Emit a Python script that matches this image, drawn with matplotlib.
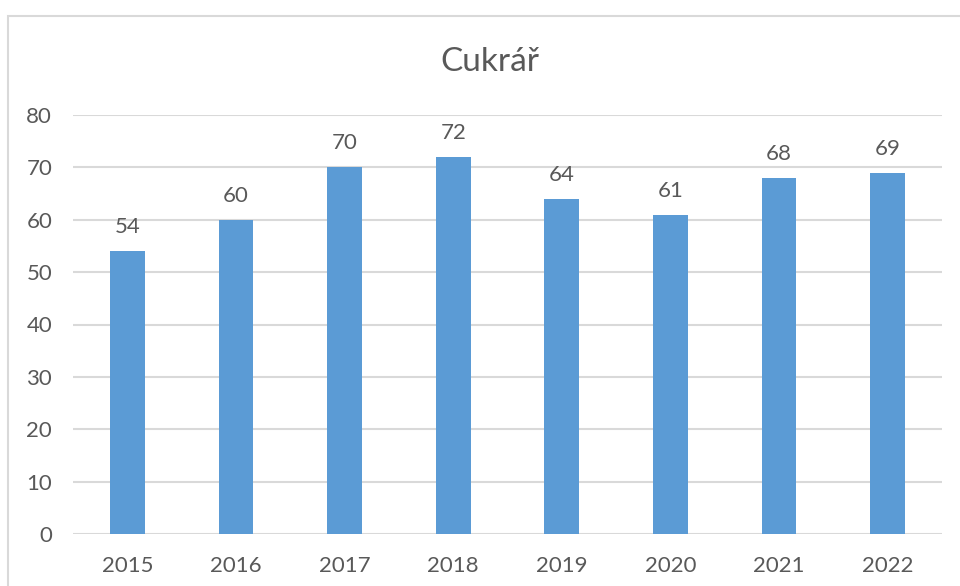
import matplotlib.pyplot as plt
from matplotlib.patches import Rectangle

years = ["2015", "2016", "2017", "2018", "2019", "2020", "2021", "2022"]
counts = [54, 60, 70, 72, 64, 61, 68, 69]
y_ticks = [0, 10, 20, 30, 40, 50, 60, 70, 80]

TEXT = "#595959"
GRID = "#D9D9D9"
BAR = "#5B9BD5"

plt.rcParams["font.family"] = ["Lato", "DejaVu Sans"]

W, H = 960, 586
fig = plt.figure(figsize=(W / 100, H / 100), dpi=100)
fig.patch.set_facecolor("white")

# chart border (runs off the right and bottom edges in the original)
fig.patches.append(Rectangle((8 / W, -0.05), 1.1, (H - 16) / H + 0.05,
                             transform=fig.transFigure, fill=False,
                             edgecolor=GRID, linewidth=1.5))

ax = fig.add_axes([73 / W, (H - 534) / H, (942 - 73) / W, (534 - 115) / H])
x = range(len(years))
bars = ax.bar(x, counts, width=0.32, color=BAR, zorder=3)
ax.bar_label(bars, labels=[str(c) for c in counts], padding=10,
             fontsize=16, color=TEXT)

ax.set_xlim(-0.5, len(years) - 0.5)
ax.set_ylim(0, 80)
ax.set_yticks(y_ticks)
ax.set_xticks(list(x))
ax.set_xticklabels(years)
ax.tick_params(length=0, labelsize=16, labelcolor=TEXT)
ax.tick_params(axis="y", pad=15)
ax.tick_params(axis="x", pad=16)
ax.yaxis.grid(True, color=GRID, linewidth=1.5, zorder=0)
for spine in ax.spines.values():
    spine.set_visible(False)

fig.text(490 / W, 1 - 62 / H, "Cukrář", ha="center", va="center",
         fontsize=24, color=TEXT)

fig.savefig("out.png", dpi=100)
